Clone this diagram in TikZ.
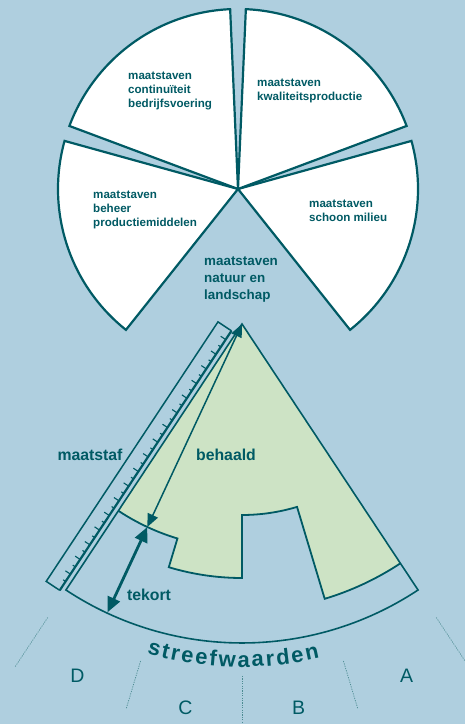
\documentclass[tikz,border=0pt]{standalone}
\usepackage{fontspec}
\setmainfont{Liberation Sans}
\usetikzlibrary{arrows.meta}
\definecolor{bgblue}{HTML}{AFCFDF}
\definecolor{dteal}{HTML}{005A64}
\definecolor{lgreen}{HTML}{CDE3C5}
\begin{document}
\begin{tikzpicture}[x=1pt,y=1pt,
  sector/.style={fill=white, draw=dteal, line width=2.2pt, line join=miter},
  lbl/.style={font=\bfseries\fontsize{11.6}{14}\selectfont, text=dteal, align=left, anchor=north west, inner sep=0pt},
  biglbl/.style={font=\bfseries\fontsize{13.4}{17}\selectfont, text=dteal, align=left, anchor=north west, inner sep=0pt},
  mlbl/.style={font=\bfseries\fontsize{15.8}{18}\selectfont, text=dteal, anchor=base, inner sep=0pt},
  binlbl/.style={font=\fontsize{19.5}{22}\selectfont, text=dteal, anchor=center, inner sep=0pt},
  swlbl/.style={font=\bfseries\fontsize{22}{24}\selectfont, text=dteal, anchor=base, inner sep=0pt},
  outline/.style={draw=dteal, line width=1.6pt},
  divider/.style={draw=dteal!70, line width=0.7pt, dash pattern=on 1.2pt off 1.2pt},
  harrow/.style={draw=dteal, line width=1.5pt, {Triangle[length=13pt,width=11pt]}-{Triangle[length=13pt,width=11pt]}},
  tarrow/.style={draw=dteal, line width=2.8pt, {Triangle[length=15pt,width=13pt]}-{Triangle[length=15pt,width=13pt]}}
]
\useasboundingbox (0,0) rectangle (465,724);
\fill[bgblue] (0,0) rectangle (465,724);
\clip (0,0) rectangle (465,724);

% ---------- top pie ----------
\coordinate (C) at (238,535);
\filldraw[sector] (C) -- ++(-51.5:180) arc[start angle=-51.5, end angle=15.5, radius=180] -- cycle;
\filldraw[sector] (C) -- ++(20.5:180) arc[start angle=20.5, end angle=87.5, radius=180] -- cycle;
\filldraw[sector] (C) -- ++(92.5:180) arc[start angle=92.5, end angle=159.5, radius=180] -- cycle;
\filldraw[sector] (C) -- ++(164.5:180) arc[start angle=164.5, end angle=231.5, radius=180] -- cycle;

\node[lbl] (cont) at (128,652) {maatstaven\\continuïteit\\bedrijfsvoering};
\node[lbl] (kwal) at (257,645) {maatstaven\\kwaliteitsproductie};
\node[lbl] (beh) at (93,533) {maatstaven\\beheer\\productiemiddelen};
\node[lbl] (schoon) at (309,524) {maatstaven\\schoon milieu};
\node[biglbl] (natuur) at (204,467) {maatstaven\\natuur en\\landschap};

% ---------- lower sector ----------
\begin{scope}[shift={(242,400)}]
  \coordinate (A) at (0,0);
  \fill[lgreen] (A) -- (236.5:224) arc[start angle=236.5, end angle=253.25, radius=224]
     -- (253.25:254) arc[start angle=253.25, end angle=270, radius=254]
     -- (270:191) arc[start angle=270, end angle=286.75, radius=191]
     -- (286.75:287) arc[start angle=286.75, end angle=303.5, radius=287] -- cycle;
  \draw[outline] (A) -- (236.5:319) arc[start angle=236.5, end angle=303.5, radius=319] -- cycle;
  \draw[outline, line width=1.8pt] (236.5:224) arc[start angle=236.5, end angle=253.25, radius=224]
     -- (253.25:254) arc[start angle=253.25, end angle=270, radius=254]
     -- (270:191) arc[start angle=270, end angle=286.75, radius=191]
     -- (286.75:287) arc[start angle=286.75, end angle=303.5, radius=287];

  \coordinate (P) at (245:224);
  \coordinate (Q) at (245:318);
  \draw[harrow] (A) -- (P);
  \draw[tarrow] (P) -- (Q);

  % dividers
  \foreach \a/\r in {236.5/412, 253.25/402, 270/402, 286.75/402, 303.5/412}
    \draw[divider] (\a:352) -- (\a:\r);

  % bin letters
  \node[binlbl] (binD) at (244.9:388) {D};
  \node[binlbl] (binC) at (261.6:388) {C};
  \node[binlbl] (binB) at (278.4:388) {B};
  \node[binlbl] (binA) at (295.1:388) {A};

  % streefwaarden along the arc
  \foreach \ch/\p [count=\k, evaluate=\p as \t using 270+(\p-9)*0.16704] in
     {s/-81.37, t/-69.43, r/-59.34, e/-46.80, e/-32.42, f/-20.49, w/-6.11, a/10.72, a/25.10, r/37.64, d/50.79, e/65.78, n/80.76}
    \node[swlbl, rotate=\t-270] (sw\k) at (\t:343) {\ch};
\end{scope}

% ruler
\begin{scope}[shift={(242,400)}, rotate=236.5]
  \draw[dteal, line width=1.5pt] (11.5,-5) -- (11.5,-21.2) -- (322.7,-21.2) -- (322.7,-5);
  \draw[dteal, line width=2.2pt] (11.5,-5) -- (322.7,-5);
  \foreach \i in {0,...,33} {
    \pgfmathsetmacro\xx{22+\i*8.79}
    \pgfmathsetmacro\ll{mod(\i,2)==0 ? 6 : 3}
    \draw[dteal, line width=1.1pt] (\xx,-5) -- (\xx,-5-\ll);
  }
\end{scope}

\node[mlbl] (maatstaf) at (90,263) {maatstaf};
\node[mlbl] (behaald) at (226,263) {behaald};
\node[mlbl] (tekort) at (149,123) {tekort};
\end{tikzpicture}
\end{document}
